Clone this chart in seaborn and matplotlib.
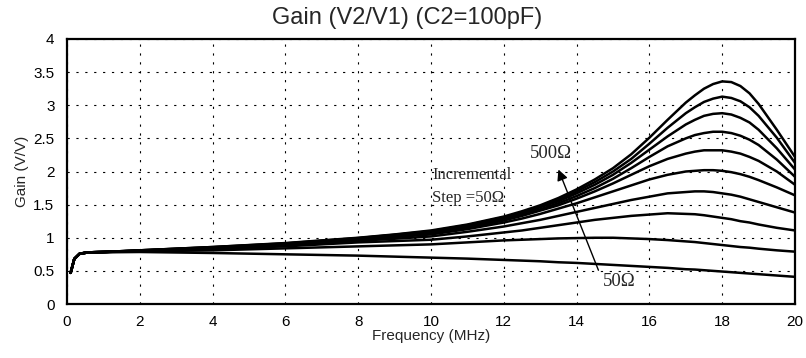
import matplotlib
matplotlib.use("Agg")
import matplotlib.pyplot as plt
import numpy as np
import pandas as pd
import seaborn as sns

# ---------------- data ----------------
freq_mhz = [0.1, 0.2, 0.35, 0.6, 1, 2, 4, 6, 8, 9, 10, 11, 12, 12.5, 13, 13.5, 14, 14.5, 15, 15.5, 16,
            16.5, 17, 17.25, 17.5, 17.75, 18, 18.25, 18.5, 18.75, 19, 19.5, 20]

gain_500 = [0.47, 0.68, 0.76, 0.78, 0.785, 0.81, 0.86, 0.92, 1.00, 1.05, 1.11, 1.20, 1.32, 1.40, 1.49, 1.60,
            1.73, 1.88, 2.05, 2.26, 2.51, 2.78, 3.04, 3.15, 3.25, 3.32, 3.36, 3.35, 3.29, 3.18, 3.02, 2.63, 2.22]
gain_450 = [0.47, 0.68, 0.76, 0.78, 0.785, 0.81, 0.86, 0.915, 0.995, 1.045, 1.10, 1.19, 1.31, 1.38, 1.47, 1.57,
            1.70, 1.84, 2.00, 2.19, 2.42, 2.66, 2.88, 2.97, 3.05, 3.10, 3.13, 3.11, 3.06, 2.97, 2.84, 2.51, 2.13]
gain_400 = [0.47, 0.68, 0.76, 0.78, 0.785, 0.81, 0.855, 0.91, 0.99, 1.04, 1.09, 1.18, 1.30, 1.37, 1.46, 1.55,
            1.67, 1.80, 1.95, 2.13, 2.33, 2.53, 2.71, 2.78, 2.84, 2.87, 2.88, 2.86, 2.81, 2.74, 2.63, 2.35, 2.03]
gain_350 = [0.47, 0.68, 0.76, 0.78, 0.785, 0.805, 0.85, 0.905, 0.985, 1.03, 1.08, 1.17, 1.28, 1.35, 1.43, 1.52,
            1.63, 1.75, 1.89, 2.05, 2.22, 2.38, 2.50, 2.55, 2.58, 2.60, 2.60, 2.58, 2.54, 2.48, 2.40, 2.18, 1.92]
gain_300 = [0.47, 0.68, 0.76, 0.78, 0.785, 0.805, 0.85, 0.90, 0.98, 1.025, 1.07, 1.15, 1.26, 1.33, 1.41, 1.49,
            1.59, 1.70, 1.82, 1.95, 2.08, 2.19, 2.27, 2.30, 2.32, 2.32, 2.32, 2.30, 2.27, 2.22, 2.16, 2.00, 1.80]
gain_250 = [0.47, 0.68, 0.76, 0.78, 0.785, 0.80, 0.845, 0.895, 0.97, 1.01, 1.05, 1.13, 1.23, 1.29, 1.36, 1.44,
            1.52, 1.61, 1.70, 1.79, 1.88, 1.95, 2.00, 2.01, 2.02, 2.02, 2.01, 1.99, 1.96, 1.92, 1.87, 1.76, 1.64]
gain_200 = [0.47, 0.68, 0.76, 0.78, 0.785, 0.80, 0.84, 0.885, 0.955, 0.985, 1.02, 1.09, 1.17, 1.22, 1.27, 1.33,
            1.39, 1.45, 1.51, 1.57, 1.62, 1.67, 1.69, 1.70, 1.70, 1.69, 1.67, 1.65, 1.62, 1.58, 1.54, 1.46, 1.38]
gain_150 = [0.47, 0.68, 0.76, 0.78, 0.785, 0.80, 0.83, 0.87, 0.93, 0.95, 0.97, 1.02, 1.08, 1.11, 1.15, 1.19,
            1.23, 1.27, 1.30, 1.33, 1.35, 1.37, 1.36, 1.355, 1.34, 1.32, 1.30, 1.28, 1.25, 1.23, 1.20, 1.15, 1.11]
gain_100 = [0.47, 0.68, 0.76, 0.78, 0.785, 0.795, 0.81, 0.84, 0.87, 0.885, 0.90, 0.93, 0.96, 0.97, 0.98, 0.99,
            0.995, 1.00, 1.00, 0.99, 0.98, 0.965, 0.945, 0.935, 0.92, 0.905, 0.89, 0.875, 0.86, 0.85, 0.835, 0.81, 0.79]
gain_50 = [0.47, 0.68, 0.76, 0.78, 0.78, 0.785, 0.77, 0.75, 0.73, 0.715, 0.70, 0.685, 0.665, 0.655, 0.645, 0.63,
           0.62, 0.605, 0.59, 0.575, 0.56, 0.545, 0.525, 0.52, 0.51, 0.50, 0.49, 0.48, 0.47, 0.46, 0.45, 0.43, 0.41]

resistances = ["500", "450", "400", "350", "300", "250", "200", "150", "100", "50"]
series = [gain_500, gain_450, gain_400, gain_350, gain_300, gain_250, gain_200, gain_150, gain_100, gain_50]

x_ticks = [0, 2, 4, 6, 8, 10, 12, 14, 16, 18, 20]
y_ticks = [0, 0.5, 1, 1.5, 2, 2.5, 3, 3.5, 4]
y_tick_labels = ["0", "0.5", "1", "1.5", "2", "2.5", "3", "3.5", "4"]

title = "Gain (V2/V1) (C2=100pF)"
x_label = "Frequency (MHz)"
y_label = "Gain (V/V)"

# ---------------- build long-form table ----------------
rows = []
for r, g in zip(resistances, series):
    for f, v in zip(freq_mhz, g):
        rows.append({"freq": f, "gain": v, "R": r})
df = pd.DataFrame(rows)

# ---------------- plot ----------------
sns.set_style("white")
plt.rcParams["font.family"] = ["Liberation Sans", "DejaVu Sans"]

fig = plt.figure(figsize=(8.06, 3.58), dpi=100)
ax = fig.add_axes([67 / 806, 54 / 358, (795 - 67) / 806, (304 - 39) / 358])

sns.lineplot(data=df, x="freq", y="gain", hue="R", hue_order=resistances,
             palette=["black"] * len(resistances), legend=False, ax=ax,
             linewidth=1.8, sort=False)

ax.set_xlim(0, 20)
ax.set_ylim(0, 4)
ax.set_xticks(x_ticks)
ax.set_yticks(y_ticks)
ax.set_yticklabels(y_tick_labels)
ax.tick_params(axis="both", length=0, labelsize=11, colors="black")
ax.tick_params(axis="y", pad=9)
ax.tick_params(axis="x", pad=8)

ax.grid(True, color="black", linestyle=(0, (2, 6)), linewidth=0.8)
for side in ["left", "bottom", "top", "right"]:
    ax.spines[side].set_visible(True)
    ax.spines[side].set_color("black")
    ax.spines[side].set_linewidth(1.6)

ax.set_xlabel(x_label, fontsize=11, labelpad=0)
ax.set_ylabel(y_label, fontsize=11, labelpad=3)

fig.text(0.505, 1 - 24 / 358, title, ha="center", va="baseline", fontsize=17)

serif = ["Liberation Serif", "DejaVu Serif"]
ax.text(12.72, 2.20, "500Ω", family=serif, fontsize=13.5, va="baseline", ha="left")
ax.text(10.03, 1.89, "Incremental", family=serif, fontsize=12, va="baseline", ha="left")
ax.text(10.03, 1.54, "Step =50Ω", family=serif, fontsize=12, va="baseline", ha="left")
ax.text(14.73, 0.27, "50Ω", family=serif, fontsize=13.5, va="baseline", ha="left")

ax.annotate("", xy=(13.5, 2.03), xytext=(14.6, 0.51),
            arrowprops=dict(arrowstyle="-|>", color="black", lw=1.0,
                            mutation_scale=16, shrinkA=0, shrinkB=0))

fig.savefig("out.png", dpi=100)
